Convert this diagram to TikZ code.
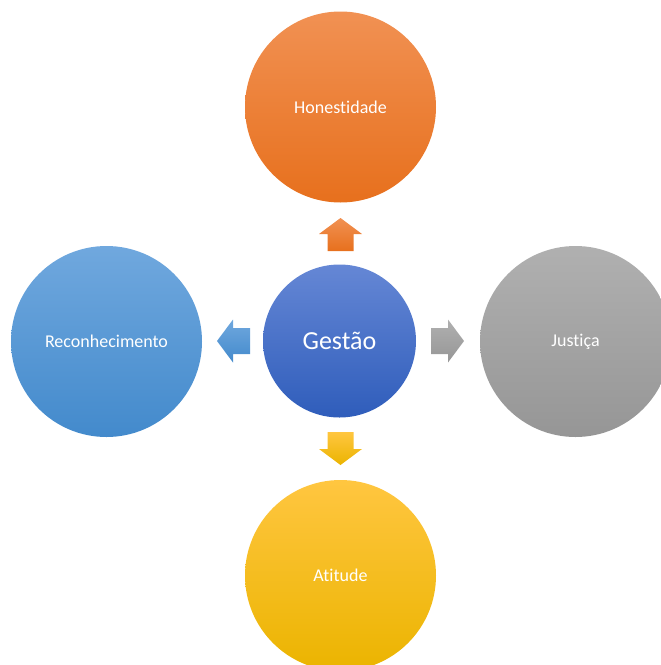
\documentclass[tikz,border=0pt]{standalone}
\usepackage{fontspec}
\setmainfont{Carlito}[RawFeature={-liga;-clig;-calt;-dlig}]

\definecolor{orangeTop}{HTML}{F19153}
\definecolor{orangeBot}{HTML}{E7701D}
\definecolor{blueTop}{HTML}{6587D5}
\definecolor{blueBot}{HTML}{2F5DBB}
\definecolor{skyTop}{HTML}{70A8DE}
\definecolor{skyBot}{HTML}{438ACC}
\definecolor{greyTop}{HTML}{B0B0B0}
\definecolor{greyBot}{HTML}{969696}
\definecolor{goldTop}{HTML}{FFC640}
\definecolor{goldMid}{HTML}{FFC400}
\definecolor{goldBot}{HTML}{EBB400}

\begin{document}
\begin{tikzpicture}[x=1pt, y=-1pt,
        bubble/.style={circle, inner sep=0pt, minimum size=191pt, text=white,
            font=\fontsize{18}{20}\selectfont},
        hub/.style={circle, inner sep=0pt, minimum size=153pt, text=white,
            font=\fontsize{26}{28}\selectfont, top color=blueTop, bottom color=blueBot}]
        \useasboundingbox (0, 0) rectangle (661, 665);

        \node[hub] (gestao) at (339.5, 341) {Gestão};
        \node[bubble, top color=orangeTop, bottom color=orangeBot] (honest) at (340.5, 107) {Honestidade};
        \node[bubble, top color=skyTop, bottom color=skyBot] (recon) at (106.5, 341.5) {Reconhecimento};
        \node[bubble, top color=greyTop, bottom color=greyBot] (justica) at (575.5, 341.5) {Justiça};
        \node[bubble, top color=goldTop, middle color=goldMid, bottom color=goldBot] (atitude) at (340.5, 575.5) {Atitude};

        % block arrows out of the hub
        \shade[top color=orangeTop, bottom color=orangeBot] (340.5, 218) -- ++(21.5, 16) -- ++(-8.5, 0) -- ++(0, 17)
            -- ++(-26, 0) -- ++(0, -17) -- ++(-8.5, 0) -- cycle;
        \shade[top color=skyTop, bottom color=skyBot] (217, 341) -- ++(16, -21.5) -- ++(0, 8.5) -- ++(17, 0)
            -- ++(0, 26) -- ++(-17, 0) -- ++(0, 8.5) -- cycle;
        \shade[top color=greyTop, bottom color=greyBot] (464, 341) -- ++(-16, -21.5) -- ++(0, 8.5) -- ++(-17, 0)
            -- ++(0, 26) -- ++(17, 0) -- ++(0, 8.5) -- cycle;
        \shade[top color=goldTop, bottom color=goldBot] (340.5, 465) -- ++(21.5, -16) -- ++(-8.5, 0) -- ++(0, -17)
            -- ++(-26, 0) -- ++(0, 17) -- ++(-8.5, 0) -- cycle;
    \end{tikzpicture}
\end{document}
